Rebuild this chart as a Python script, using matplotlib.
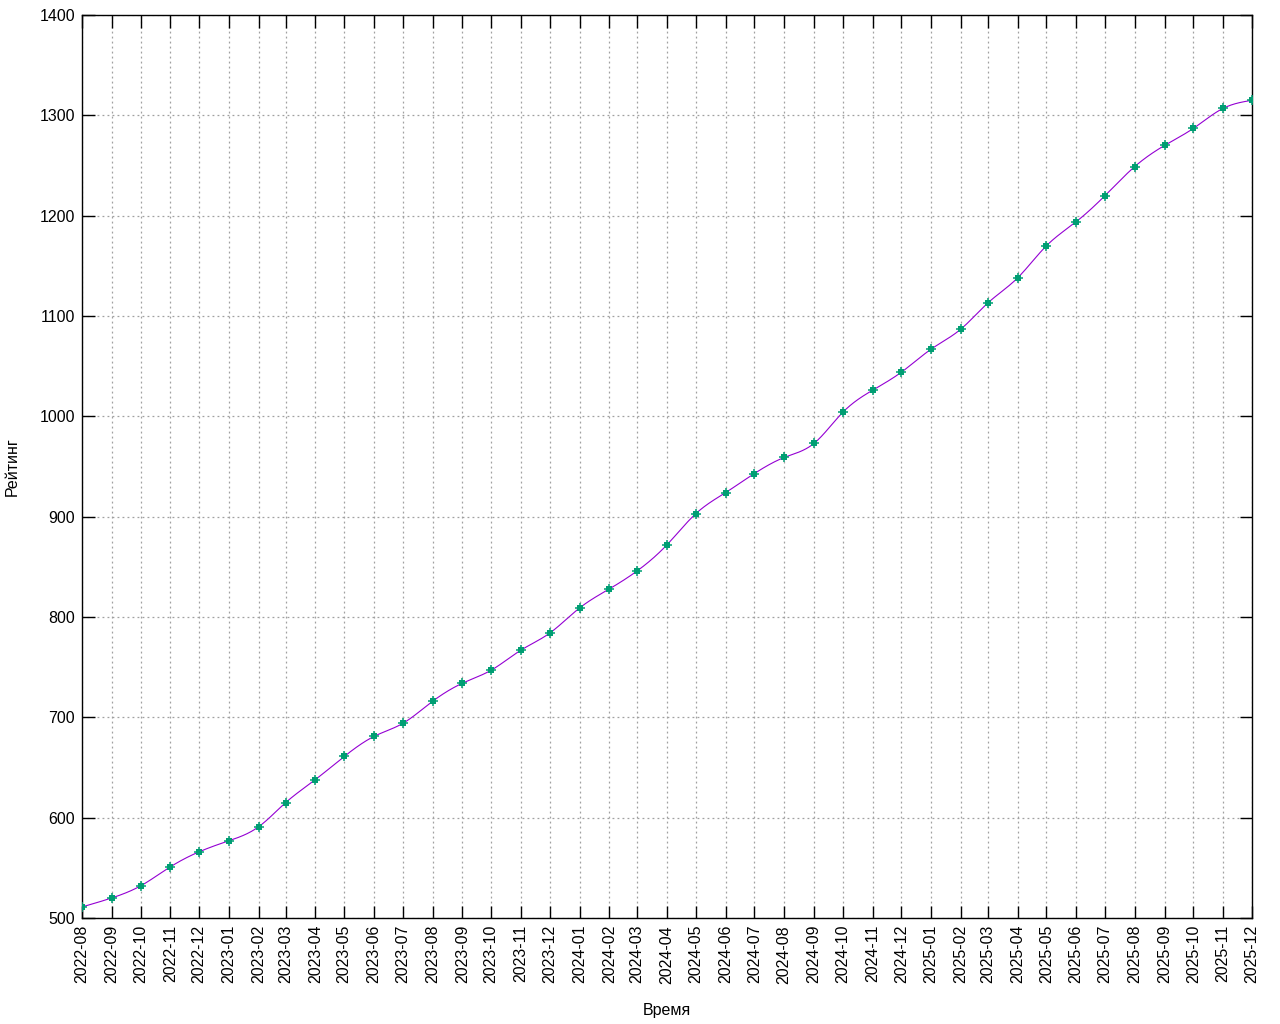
import numpy as np
import matplotlib
matplotlib.use("Agg")
import matplotlib.pyplot as plt
import matplotlib.dates as mdates
from datetime import date

months = ["2022-08", "2022-09", "2022-10", "2022-11", "2022-12",
          "2023-01", "2023-02", "2023-03", "2023-04", "2023-05", "2023-06",
          "2023-07", "2023-08", "2023-09", "2023-10", "2023-11", "2023-12",
          "2024-01", "2024-02", "2024-03", "2024-04", "2024-05", "2024-06",
          "2024-07", "2024-08", "2024-09", "2024-10", "2024-11", "2024-12",
          "2025-01", "2025-02", "2025-03", "2025-04", "2025-05", "2025-06",
          "2025-07", "2025-08", "2025-09", "2025-10", "2025-11", "2025-12"]
rating = [511, 520, 532, 551, 566,
          577, 591, 615, 638, 661, 681,
          694, 716, 734, 747, 767, 784,
          809, 828, 846, 872, 903, 924,
          943, 959, 973, 1004, 1026, 1044,
          1067, 1087, 1113, 1138, 1170, 1194,
          1220, 1249, 1270, 1287, 1307, 1315]
y_ticks = [500, 600, 700, 800, 900, 1000, 1100, 1200, 1300, 1400]

plt.rcParams['font.family'] = ['Liberation Sans', 'DejaVu Sans']

dates = [date(int(m[:4]), int(m[5:]), 1) for m in months]
xn = mdates.date2num(dates)
yv = np.array(rating, dtype=float)


def natural_spline(x, y, n=2000):
    x = np.asarray(x, float)
    h = np.diff(x)
    N = len(x)
    A = np.zeros((N, N))
    b = np.zeros(N)
    A[0, 0] = 1
    A[-1, -1] = 1
    for i in range(1, N - 1):
        A[i, i - 1] = h[i - 1]
        A[i, i] = 2 * (h[i - 1] + h[i])
        A[i, i + 1] = h[i]
        b[i] = 3 * ((y[i + 1] - y[i]) / h[i] - (y[i] - y[i - 1]) / h[i - 1])
    c = np.linalg.solve(A, b)
    xs = np.linspace(x[0], x[-1], n)
    idx = np.clip(np.searchsorted(x, xs) - 1, 0, N - 2)
    hi = h[idx]
    bi = (y[idx + 1] - y[idx]) / hi - hi * (2 * c[idx] + c[idx + 1]) / 3
    di = (c[idx + 1] - c[idx]) / (3 * hi)
    t = xs - x[idx]
    ys = y[idx] + bi * t + c[idx] * t ** 2 + di * t ** 3
    return xs, ys


fig = plt.figure(figsize=(12.8, 10.24), dpi=100)
ax = fig.add_axes([82 / 1280, 106 / 1024, (1252 - 82) / 1280, (918 - 15) / 1024])

xs, ys = natural_spline(xn, yv)
ax.plot(xs, ys, color='#9400d3', linewidth=0.8, zorder=3)
ax.plot(xn, yv, linestyle='none', marker='s', markersize=4.2,
        color='#009e73', markeredgewidth=0, zorder=4)
ax.plot(xn, yv, linestyle='none', marker='+', markersize=6.5,
        color='#009e73', markeredgewidth=1.1, zorder=4)

ax.set_xlim(xn[0], xn[-1])
ax.set_ylim(500, 1400)
ax.set_xticks(xn)
ax.set_xticklabels(months, rotation=90, fontsize=11.5)
ax.set_yticks(y_ticks)
ax.set_yticklabels([str(v) for v in y_ticks], fontsize=11.5)
ax.tick_params(axis='both', direction='in', length=9, width=1, color='black',
               top=True, right=True, pad=5)
ax.tick_params(axis='x', pad=5)
ax.grid(True, color='#a0a0a0', linestyle=(0, (1.5, 2.5)), linewidth=0.9)
for s in ax.spines.values():
    s.set_linewidth(1)
    s.set_color('black')

ax.set_xlabel('Время', fontsize=11.5, labelpad=14)
ax.set_ylabel('Рейтинг', fontsize=11.5, labelpad=14)

fig.savefig('out.png', dpi=100)
